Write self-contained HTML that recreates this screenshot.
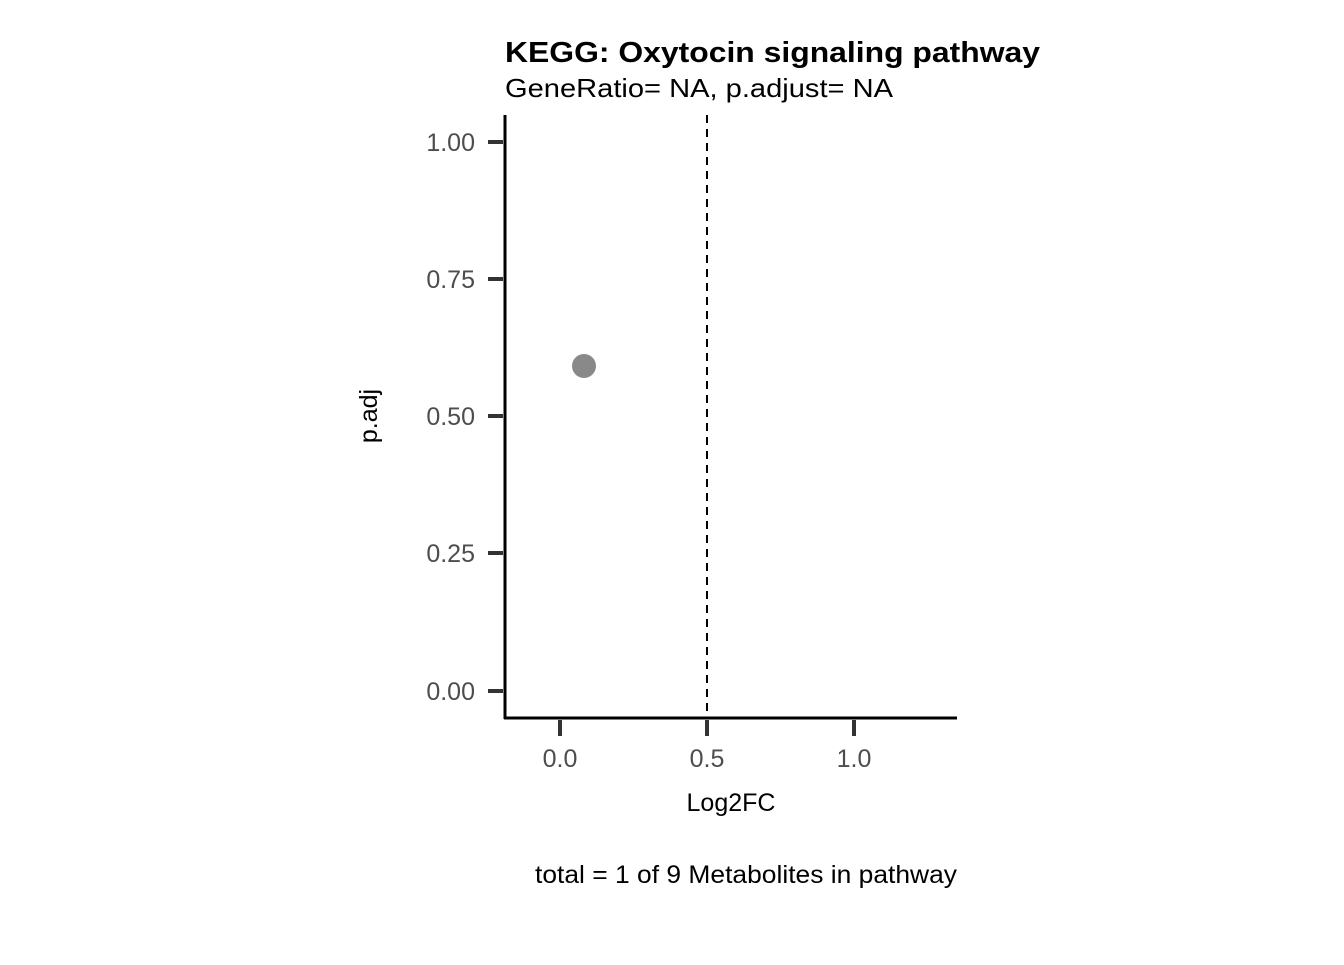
<!DOCTYPE html>
<html><head><style>body{margin:0;background:#fff}</style></head>
<body>
<svg width="1344" height="960" xmlns="http://www.w3.org/2000/svg" font-family="Liberation Sans, Arial, sans-serif">
<rect width="1344" height="960" fill="#fff"/>
<text x="505" y="62" font-size="29" font-weight="bold" fill="#000" textLength="535" lengthAdjust="spacingAndGlyphs">KEGG: Oxytocin signaling pathway</text>
<text x="505" y="97" font-size="26" fill="#000" textLength="388" lengthAdjust="spacingAndGlyphs">GeneRatio= NA, p.adjust= NA</text>
<line x1="707" y1="115" x2="707" y2="718" stroke="#000" stroke-width="2" stroke-dasharray="8,6"/>
<circle cx="584" cy="366" r="12" fill="#898989"/>
<line x1="505" y1="115" x2="505" y2="719" stroke="#000" stroke-width="3"/>
<line x1="504" y1="718" x2="957" y2="718" stroke="#000" stroke-width="3"/>
<g stroke="#333" stroke-width="4">
<line x1="488" y1="142" x2="503" y2="142"/>
<line x1="488" y1="279" x2="503" y2="279"/>
<line x1="488" y1="416" x2="503" y2="416"/>
<line x1="488" y1="553" x2="503" y2="553"/>
<line x1="488" y1="691" x2="503" y2="691"/>
<line x1="560" y1="720" x2="560" y2="736"/>
<line x1="707" y1="720" x2="707" y2="736"/>
<line x1="854" y1="720" x2="854" y2="736"/>
</g>
<g font-size="25" fill="#4d4d4d" text-anchor="end">
<text x="475" y="151">1.00</text>
<text x="475" y="288">0.75</text>
<text x="475" y="425">0.50</text>
<text x="475" y="562">0.25</text>
<text x="475" y="700">0.00</text>
</g>
<g font-size="25" fill="#4d4d4d" text-anchor="middle">
<text x="560" y="767">0.0</text>
<text x="707" y="767">0.5</text>
<text x="854" y="767">1.0</text>
</g>
<text x="731" y="811" font-size="25" text-anchor="middle" fill="#000">Log2FC</text>
<text transform="translate(377,416) rotate(-90)" font-size="25" text-anchor="middle" fill="#000">p.adj</text>
<text x="957" y="883" font-size="25" text-anchor="end" fill="#000" textLength="422" lengthAdjust="spacingAndGlyphs">total = 1 of 9 Metabolites in pathway</text>
</svg>
</body></html>
